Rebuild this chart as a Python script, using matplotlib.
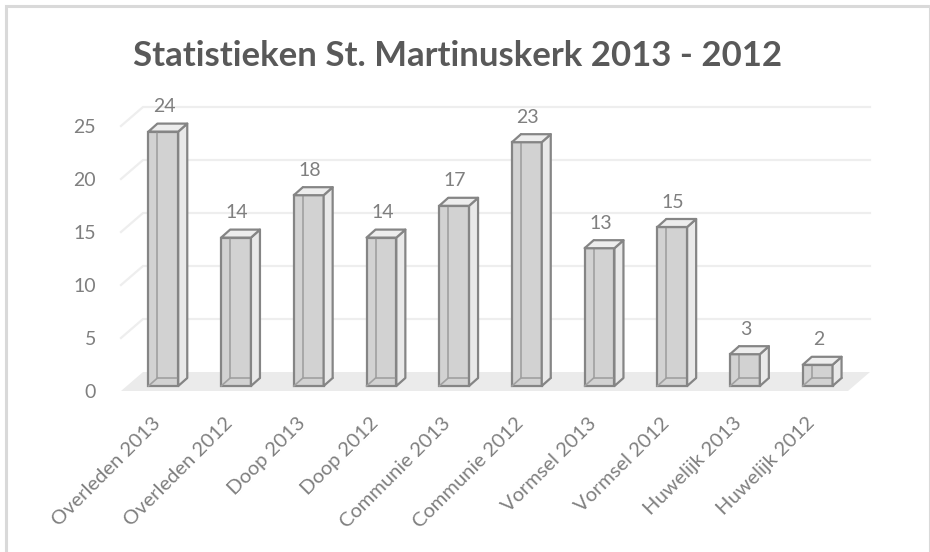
import matplotlib
matplotlib.use("Agg")
import matplotlib.pyplot as plt
from matplotlib.patches import Polygon, Rectangle
from matplotlib.lines import Line2D
from matplotlib.transforms import Affine2D, IdentityTransform
import numpy as np

categories = ["Overleden 2013", "Overleden 2012", "Doop 2013", "Doop 2012",
              "Communie 2013", "Communie 2012", "Vormsel 2013", "Vormsel 2012",
              "Huwelijk 2013", "Huwelijk 2012"]
values = [24, 14, 18, 14, 17, 23, 13, 15, 3, 2]
yticks = [0, 5, 10, 15, 20, 25]
title = "Statistieken St. Martinuskerk 2013 - 2012"

FONT = ["Lato", "DejaVu Sans"]
TXT = "#7f7f7f"
EDGE = "#858585"

W, H = 930, 552
fig = plt.figure(figsize=(W / 100, H / 100), dpi=100)

# axes = front plane of the floor
ax_left, ax_right = 121, 848
ax_bottom_px, ax_top_px = 391, 126  # from top
ax = fig.add_axes([ax_left / W, 1 - ax_bottom_px / H,
                   (ax_right - ax_left) / W, (ax_bottom_px - ax_top_px) / H])
ax.set_xlim(-0.5, len(categories) - 0.5)
ax.set_ylim(0, 25)
ax.set_autoscale_on(False)
for s in ax.spines.values():
    s.set_visible(False)
ax.patch.set_alpha(0)

# depth offsets in pixels (display coords)
FLOOR_D = np.array([22.0, 19.0])
BAR_F = np.array([6.0, 5.0])
BAR_D = np.array([9.0, 8.0])

fig.canvas.draw()
T = ax.transData
ident = IdentityTransform()

def P(x, y, off=(0, 0)):
    p = T.transform((x, y))
    return (p[0] + off[0], p[1] + off[1])

def add_poly(pts, **kw):
    ax.add_patch(Polygon(pts, closed=True, transform=ident, clip_on=False, **kw))

def add_line(pts, **kw):
    xs = [p[0] for p in pts]
    ys = [p[1] for p in pts]
    ax.add_line(Line2D(xs, ys, transform=ident, clip_on=False, **kw))

# floor
x0, x1 = -0.5, len(categories) - 0.5
add_poly([P(x0, 0), P(x1, 0), P(x1, 0, FLOOR_D), P(x0, 0, FLOOR_D)],
         facecolor="#ebebeb", edgecolor="none", zorder=1)
# gridlines on back wall
for v in yticks[1:]:
    add_line([P(x0, v), P(x0, v, FLOOR_D), P(x1, v, FLOOR_D)],
             color="#eeeeee", lw=1.6, zorder=1.5)

# bars
bw = 0.41
front_tr = T + Affine2D().translate(*BAR_F)
ax.bar(range(len(categories)), values, width=bw, color="#d2d2d2",
       edgecolor=EDGE, linewidth=1.6, transform=front_tr, zorder=5, clip_on=False)
for i, v in enumerate(values):
    xl, xr = i - bw / 2, i + bw / 2
    fo = BAR_F
    bo = BAR_F + BAR_D
    # hidden back edges seen through the front face
    add_line([P(xl, v, bo), P(xl, 0, bo), P(xr, 0, bo)], color="#a0a0a0", lw=1.2, zorder=6)
    add_line([P(xl, 0, fo), P(xl, 0, bo)], color="#a0a0a0", lw=1.2, zorder=6)
    # right side and top
    add_poly([P(xr, 0, fo), P(xr, 0, bo), P(xr, v, bo), P(xr, v, fo)],
             facecolor="#e9e9e9", edgecolor=EDGE, lw=1.6, joinstyle="round", zorder=7)
    add_poly([P(xl, v, fo), P(xr, v, fo), P(xr, v, bo), P(xl, v, bo)],
             facecolor="#ededed", edgecolor=EDGE, lw=1.6, joinstyle="round", zorder=7)
    # data label
    lp = P(i, v, fo + np.array([1.0, 8.0 + 17.0]))
    ax.text(lp[0], lp[1], str(v), transform=ident, ha="center", va="center", color=TXT,
            fontsize=14, family=FONT, zorder=8)

ax.set_yticks(yticks)
ax.set_yticklabels([str(t) for t in yticks], family=FONT, fontsize=14, color=TXT)
ax.tick_params(axis="y", length=0, pad=18)
ax.set_xticks(range(len(categories)))
ax.set_xticklabels(categories, rotation=45, ha="right", va="center",
                   rotation_mode="anchor", family=FONT, fontsize=14.5, color=TXT)
ax.tick_params(axis="x", length=0, pad=21)

fig.text(458 / W, 1 - 56 / H, title, ha="center", va="center", fontsize=25,
         fontweight="bold", color="#595959", family=FONT)

# chart border
fig.patches.append(Rectangle((6, -10), 924, H - 6 + 10, transform=ident, fill=False,
                             edgecolor="#d9d9d9", lw=2.2, zorder=0))

fig.savefig("out.png", dpi=100)
